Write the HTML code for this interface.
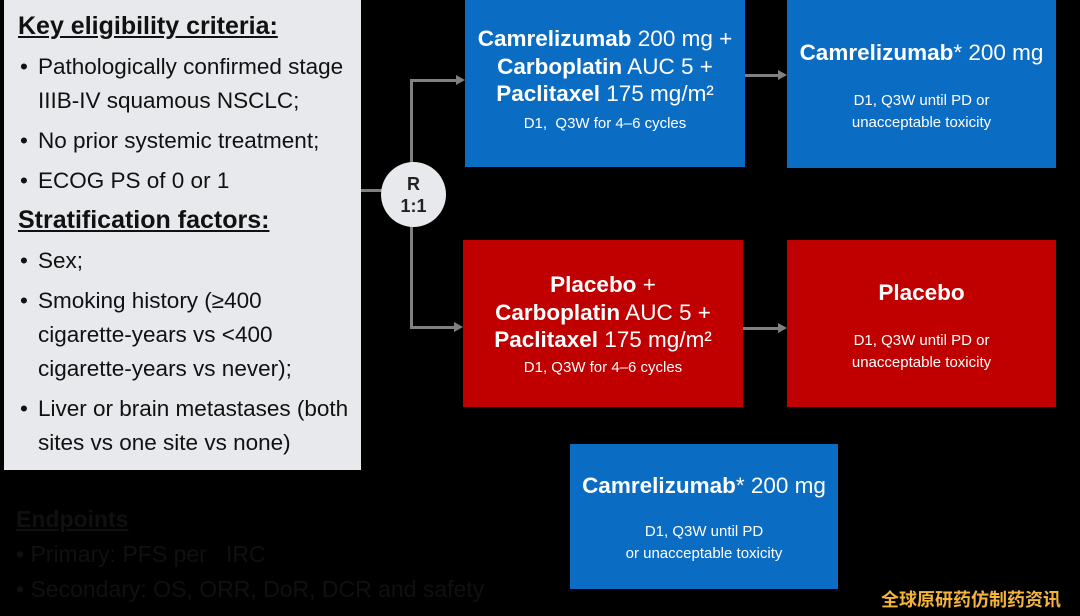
<!DOCTYPE html>
<html><head><meta charset="utf-8"><style>
*{margin:0;padding:0;box-sizing:border-box}
body{width:1080px;height:616px;background:#000;position:relative;overflow:hidden;font-family:"Liberation Sans",Arial,sans-serif}
.a{position:absolute}
.left{left:4px;top:0;width:357px;height:470px;background:#e7e9ec;color:#111;font-size:22.5px;line-height:34px;padding:10px 0 0 14px;white-space:nowrap}
.h{font-weight:bold;text-decoration:underline;font-size:25px;line-height:32px}
.li{padding-left:20px;position:relative;margin-top:6px}
.li:before{content:"•";position:absolute;left:2px}
.box{position:absolute;color:#fff;text-align:center}
.blue{background:#0a6cc3}.red{background:#c00000}
.big{font-size:22.5px;line-height:27.5px}
.sm{font-size:15px;line-height:22px}
.ln{position:absolute;background:#808080}
.ah{position:absolute;width:0;height:0;border-top:5px solid transparent;border-bottom:5px solid transparent;border-left:9px solid #808080}
</style></head><body>
<div class="a left">
<div class="h">Key eligibility criteria:</div>
<div class="li" style="margin-top:8px">Pathologically confirmed stage<br>IIIB-IV squamous NSCLC;</div>
<div class="li">No prior systemic treatment;</div>
<div class="li">ECOG PS of 0 or 1</div>
<div class="h" style="margin-top:6px">Stratification factors:</div>
<div class="li" style="margin-top:8px">Sex;</div>
<div class="li">Smoking history (≥400<br>cigarette-years vs &lt;400<br>cigarette-years vs never);</div>
<div class="li">Liver or brain metastases (both<br>sites vs one site vs none)</div>
</div>
<div class="a" style="left:16px;top:502px;color:#101010;font-size:23px;line-height:35px">
<div style="font-weight:bold;text-decoration:underline">Endpoints</div>
<div>• Primary: PFS per &nbsp; IRC</div>
<div>• Secondary: OS, ORR, DoR, DCR and safety</div>
</div>

<div class="ln" style="left:361px;top:189px;width:22px;height:3px"></div>
<div class="ln" style="left:410px;top:79px;width:3px;height:250px"></div>
<div class="ln" style="left:410px;top:79px;width:46px;height:3px"></div>
<div class="ah" style="left:456px;top:75px"></div>
<div class="ln" style="left:410px;top:326px;width:44px;height:3px"></div>
<div class="ah" style="left:454px;top:322px"></div>
<div class="ln" style="left:745px;top:74px;width:33px;height:3px"></div>
<div class="ah" style="left:778px;top:70px"></div>
<div class="ln" style="left:743px;top:327px;width:35px;height:3px"></div>
<div class="ah" style="left:778px;top:323px"></div>
<div class="a" style="left:381px;top:162px;width:65px;height:65px;border-radius:50%;background:#e7e9ec;color:#222;font-weight:bold;font-size:18px;line-height:22px;text-align:center;padding-top:11px">R<br>1:1</div>

<div class="box blue" style="left:465px;top:0;width:280px;height:167px;padding-top:25px">
<div class="big"><b>Camrelizumab</b> 200 mg +<br><b>Carboplatin</b> AUC 5 +<br><b>Paclitaxel</b> 175 mg/m²</div>
<div class="sm" style="margin-top:5px">D1, &nbsp;Q3W for 4–6 cycles</div></div>
<div class="box blue" style="left:787px;top:0;width:269px;height:168px;padding-top:39px">
<div class="big"><b>Camrelizumab</b>* 200 mg</div>
<div class="sm" style="margin-top:23px">D1, Q3W until PD or<br>unacceptable toxicity</div></div>
<div class="box red" style="left:463px;top:240px;width:280px;height:167px;padding-top:31px">
<div class="big"><b>Placebo</b> +<br><b>Carboplatin</b> AUC 5 +<br><b>Paclitaxel</b> 175 mg/m²</div>
<div class="sm" style="margin-top:3px">D1, Q3W for 4–6 cycles</div></div>
<div class="box red" style="left:787px;top:240px;width:269px;height:167px;padding-top:39px">
<div class="big"><b>Placebo</b></div>
<div class="sm" style="margin-top:23px">D1, Q3W until PD or<br>unacceptable toxicity</div></div>
<div class="box blue" style="left:570px;top:444px;width:268px;height:145px;padding-top:28px">
<div class="big"><b>Camrelizumab</b>* 200 mg</div>
<div class="sm" style="margin-top:21px">D1, Q3W until PD<br>or unacceptable toxicity</div></div>
<div class="a" style="left:881px;top:586px;color:#f5b43a;font-size:18px;font-family:'Liberation Sans','Noto Sans CJK SC',sans-serif;font-weight:bold">全球原研药仿制药资讯</div>
</body></html>
